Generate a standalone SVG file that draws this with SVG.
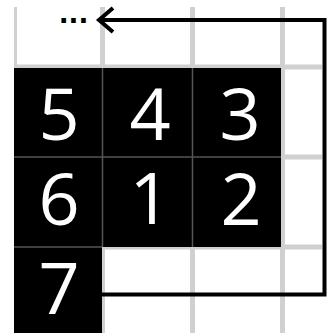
<svg xmlns="http://www.w3.org/2000/svg" width="329" height="333" viewBox="0 0 329 333">
  <defs>
    <style>
      .grid { stroke: #d0d0d0; stroke-width: 5; fill: none; }
      .cell { fill: #000; }
      .sep { stroke: #555; stroke-width: 1.5; fill: none; }
      .num { fill: #fff; font-family: "Open Sans", "Noto Sans", sans-serif; font-size: 72px; text-anchor: middle; }
      .conn { stroke: #000; stroke-width: 4; fill: none; }
    </style>
    <marker id="chev" markerUnits="userSpaceOnUse" viewBox="-20 -16 24 32" markerWidth="24" markerHeight="32" refX="0" refY="0" orient="auto">
      <path d="M-14,-12 L0,0 L-14,12" fill="none" stroke="#000" stroke-width="4" stroke-linejoin="miter"/>
    </marker>
  </defs>
  <rect width="329" height="333" fill="#fff"/>
  <g id="grid">
    <line class="grid" x1="15.5" y1="7" x2="15.5" y2="67" style="stroke-width:3"/>
    <line class="grid" x1="102.5" y1="7" x2="102.5" y2="333"/>
    <line class="grid" x1="192.5" y1="7" x2="192.5" y2="333"/>
    <line class="grid" x1="282.5" y1="7" x2="282.5" y2="333"/>
    <line class="grid" x1="14" y1="67" x2="322" y2="67"/>
    <line class="grid" x1="282" y1="157" x2="322" y2="157"/>
    <line class="grid" x1="102" y1="247" x2="322" y2="247"/>
  </g>
  <g id="cells">
    <rect class="cell" x="14" y="68" width="267" height="179"/>
    <rect class="cell" x="14" y="247" width="88" height="86"/>
    <line class="sep" x1="102.5" y1="68" x2="102.5" y2="247"/>
    <line class="sep" x1="192.5" y1="68" x2="192.5" y2="247"/>
    <line class="sep" x1="14" y1="157" x2="281" y2="157"/>
    <line class="sep" x1="14" y1="247" x2="102" y2="247"/>
  </g>
  <g id="n5"><text class="num" x="59" y="140">5</text></g>
  <g id="n4"><text class="num" x="150" y="140">4</text></g>
  <g id="n3"><text class="num" x="240" y="140">3</text></g>
  <g id="n6"><text class="num" x="59" y="225">6</text></g>
  <g id="n1"><text class="num" x="150" y="224">1</text></g>
  <g id="n2"><text class="num" x="241" y="225">2</text></g>
  <g id="n7"><text class="num" x="59" y="314">7</text></g>
  <g id="ellipsis"><text x="73.5" y="22.5" font-family="'DejaVu Sans', sans-serif" font-weight="bold" font-size="26" text-anchor="middle" fill="#000">...</text></g>
  <g id="connectors">
    <path class="conn" d="M102,294.5 H324.5 V20 H99" marker-end="url(#chev)"/>
  </g>
</svg>
